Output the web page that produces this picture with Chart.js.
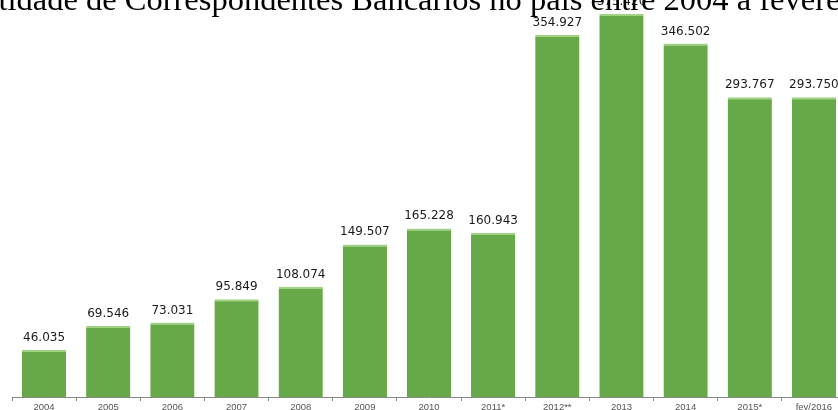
<!DOCTYPE html>
<html>
<head>
<meta charset="utf-8">
<script src="https://cdn.jsdelivr.net/npm/chart.js@4"></script>
<style>
    html, body { margin: 0; padding: 0; background: #fff; overflow: hidden; width: 838px; height: 410px; }
    #wrap { position: absolute; left: 0; top: 0; width: 860px; height: 420px; }
    #titulo {
        position: absolute; left: -72px; top: -17px;
        font-family: "Liberation Serif", "Times New Roman", serif;
        font-size: 32.5px; line-height: 32.5px; color: #000;
        white-space: nowrap; z-index: 2;
    }
</style>
</head>
<body>
<div id="wrap"><canvas id="chart" width="860" height="420"></canvas></div>
<div id="titulo">Quantidade de Correspondentes Bancários no país entre 2004 a fevereiro de 2016</div>
<script>
// dados
const anos = ['2004', '2005', '2006', '2007', '2008', '2009', '2010', '2011*', '2012**', '2013', '2014', '2015*', 'fev/2016'];
const correspondentes = [46035, 69546, 73031, 95849, 108074, 149507, 165228, 160943, 354927, 375420, 346502, 293767, 293750];

function formatar(v) {
    return String(v).replace(/\B(?=(\d{3})+(?!\d))/g, '.');
}

// rotulos acima das barras
const rotulos = {
    id: 'rotulos',
    afterDatasetsDraw(chart) {
        const ctx = chart.ctx;
        const meta = chart.getDatasetMeta(0);
        ctx.save();
        ctx.font = '12px "DejaVu Sans", Verdana, sans-serif';
        ctx.fillStyle = '#1a1a1a';
        ctx.textAlign = 'center';
        ctx.textBaseline = 'alphabetic';
        meta.data.forEach(function(bar, i) {
            ctx.fillText(formatar(correspondentes[i]), bar.x, bar.y - 9);
        });
        ctx.restore();
    }
};

const ctx = document.getElementById('chart').getContext('2d');
new Chart(ctx, {
    type: 'bar',
    data: {
        labels: anos,
        datasets: [{
            data: correspondentes,
            backgroundColor: '#67a848',
            borderColor: '#9fd383',
            borderWidth: { top: 2, left: 0, right: 0, bottom: 0 },
            borderSkipped: false,
            categoryPercentage: 1,
            barPercentage: 0.69
        }]
    },
    options: {
        responsive: false,
        animation: false,
        layout: { padding: { left: 12, right: 14, top: 0, bottom: 0 } },
        plugins: {
            legend: { display: false },
            title: { display: false },
            tooltip: { enabled: false }
        },
        scales: {
            y: {
                display: false,
                min: 0,
                max: 389200
            },
            x: {
                offset: true,
                grid: {
                    offset: true,
                    drawOnChartArea: false,
                    drawTicks: true,
                    tickLength: 4,
                    color: '#888'
                },
                border: { display: true, color: '#888' },
                ticks: {
                    padding: 1,
                    color: '#555',
                    maxRotation: 0,
                    autoSkip: false,
                    font: { family: '"Liberation Sans", Arial, sans-serif', size: 9.5 }
                },
                afterFit: function(scale) { scale.height = 23; }
            }
        }
    },
    plugins: [rotulos]
});
</script>
</body>
</html>
